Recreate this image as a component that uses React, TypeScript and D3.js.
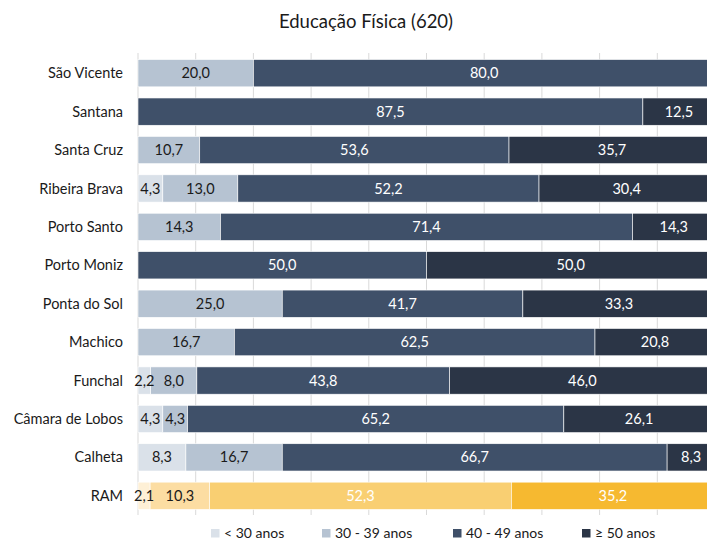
import React from "react";
import * as d3 from "d3";

const categories = [
  "São Vicente",
  "Santana",
  "Santa Cruz",
  "Ribeira Brava",
  "Porto Santo",
  "Porto Moniz",
  "Ponta do Sol",
  "Machico",
  "Funchal",
  "Câmara de Lobos",
  "Calheta",
  "RAM",
];
const seriesNames = ["< 30 anos", "30 - 39 anos", "40 - 49 anos", "≥ 50 anos"];
const under30 = [0, 0, 0, 4.3, 0, 0, 0, 0, 2.2, 4.3, 8.3, 2.1];
const from30to39 = [20.0, 0, 10.7, 13.0, 14.3, 0, 25.0, 16.7, 8.0, 4.3, 16.7, 10.3];
const from40to49 = [80.0, 87.5, 53.6, 52.2, 71.4, 50.0, 41.7, 62.5, 43.8, 65.2, 66.7, 52.3];
const over50 = [0, 12.5, 35.7, 30.4, 14.3, 50.0, 33.3, 20.8, 46.0, 26.1, 8.3, 35.2];
const xTicks = [0, 10, 20, 30, 40, 50, 60, 70, 80, 90, 100];
const title = "Educação Física (620)";

const blueColors = ["#dae1e9", "#b6c3d2", "#3f5069", "#2b3546"];
const yellowColors = ["#fef0d6", "#fcdda2", "#f9cf72", "#f6b930"];
const textColors = ["#1a1a1a", "#1a1a1a", "#ffffff", "#ffffff"];

const FONT = "Lato, 'Open Sans', sans-serif";

export default function App() {
  const width = 707;
  const height = 540;
  const x = d3.scaleLinear().domain([0, 100]).range([138, 715]);
  const y = d3.scaleBand<string>().domain(categories).range([54, 515]).paddingInner(0.29).paddingOuter(0.145);
  const seriesData = [under30, from30to39, from40to49, over50];

  const rows = categories.map((c, i) => {
    let acc = 0;
    const segs = seriesData.map((s, k) => {
      const v = s[i];
      const x0 = acc;
      acc += v;
      return { k, v, x0, x1: acc };
    });
    return { c, i, segs };
  });

  const legendX = [211, 322, 453, 582];

  return (
    <svg
      width={width}
      height={height}
      style={{ position: "absolute", left: 0, top: 0, background: "#fff" }}
      fontFamily={FONT}
    >
      <rect x={0} y={0} width={width} height={height} fill="#fff" />
      <text x={366} y={28} textAnchor="middle" fontSize={18.5} fill="#1a1a1a">
        {title}
      </text>
      {xTicks.map((t) => (
        <line key={t} x1={x(t)} x2={x(t)} y1={53} y2={515} stroke="#d9d9d9" strokeWidth={1} />
      ))}
      {rows.map((r) => {
        const yy = y(r.c)!;
        const bh = y.bandwidth();
        const colors = r.c === "RAM" ? yellowColors : blueColors;
        return (
          <g key={r.c}>
            <text
              x={123}
              y={yy + bh / 2}
              dy="0.35em"
              textAnchor="end"
              fontSize={14.5}
              fill="#1a1a1a"
            >
              {r.c}
            </text>
            {r.segs
              .filter((s) => s.v > 0)
              .map((s) => (
                <rect
                  key={s.k}
                  x={x(s.x0)}
                  y={yy}
                  width={x(s.x1) - x(s.x0)}
                  height={bh}
                  fill={colors[s.k]}
                  stroke="#ffffff"
                  strokeWidth={0.6}
                />
              ))}
            {r.segs
              .filter((s) => s.v > 0)
              .map((s) => (
                <text
                  key={"t" + s.k}
                  x={(x(s.x0) + x(s.x1)) / 2}
                  y={yy + bh / 2}
                  dy="0.35em"
                  textAnchor="middle"
                  fontSize={14.5}
                  fill={textColors[s.k]}
                >
                  {s.v.toFixed(1).replace(".", ",")}
                </text>
              ))}
          </g>
        );
      })}
      {seriesNames.map((n, k) => (
        <g key={n}>
          <rect x={legendX[k]} y={529} width={8.5} height={8.5} fill={blueColors[k]} />
          <text x={legendX[k] + 13} y={533.5} dy="0.35em" fontSize={14} fill="#1a1a1a">
            {n}
          </text>
        </g>
      ))}
    </svg>
  );
}
